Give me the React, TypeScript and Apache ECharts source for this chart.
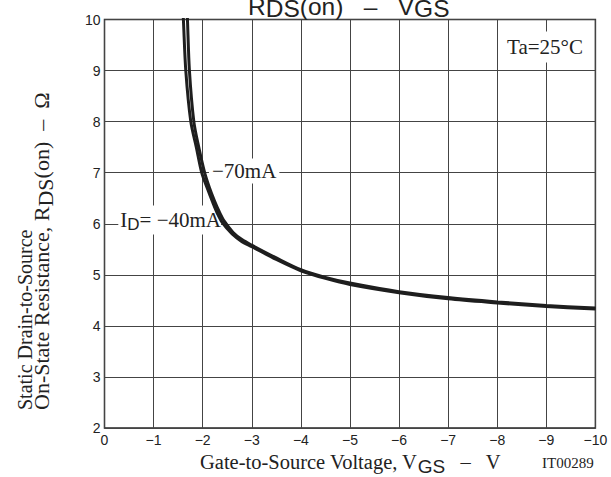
import React, { useEffect, useRef } from 'react';
import * as echarts from 'echarts';

// ID = -40mA curve
const vgs40 = [-1.58, -1.607, -1.656, -1.758, -1.87, -1.98, -2.1, -2.2, -2.3, -2.4, -2.6, -2.8, -3.0, -3.5, -4.0, -4.5, -5.0, -6.0, -7.0, -8.0, -9.0, -10.0];
const r40 = [10.5, 10.0, 9.0, 8.0, 7.5, 7.0, 6.68, 6.43, 6.2, 6.02, 5.8, 5.65, 5.55, 5.3, 5.08, 4.93, 4.81, 4.65, 4.53, 4.45, 4.38, 4.33];
// ID = -70mA curve
const vgs70 = [-1.67, -1.69, -1.73, -1.82, -1.92, -2.04, -2.14, -2.24, -2.34, -2.44, -2.62, -2.8, -3.0, -3.5, -4.0, -4.5, -5.0, -6.0, -7.0, -8.0, -9.0, -10.0];
const r70 = [10.5, 10.0, 9.0, 8.0, 7.5, 7.0, 6.7, 6.45, 6.23, 6.05, 5.83, 5.69, 5.58, 5.33, 5.1, 4.95, 4.84, 4.67, 4.555, 4.47, 4.4, 4.35];

const xMin = -10;
const xMax = 0;
const yMin = 2;
const yMax = 10;

const SERIF = "'Liberation Serif', 'Times New Roman', serif";
const SANS = "'Liberation Sans', Arial, sans-serif";
const INK = '#1e1e1e';

export default function App() {
  const ref = useRef<HTMLDivElement>(null);
  useEffect(() => {
    document.body.style.margin = '0';
    const chart = echarts.init(ref.current!, null, { renderer: 'svg' });
    const fmt = (v: number) => (v === 0 ? '0' : '\u2212' + Math.abs(v));
    chart.setOption({
      animation: false,
      backgroundColor: '#fff',
      grid: {
        left: 104.5, right: 15.6, top: 19.5, bottom: 49,
        show: true, borderColor: '#262626', borderWidth: 1.5, backgroundColor: 'transparent',
      },
      xAxis: {
        type: 'value', min: xMin, max: xMax, interval: 1, inverse: true,
        axisLine: { show: false }, axisTick: { show: false },
        splitLine: { show: true, lineStyle: { color: '#444', width: 1 } },
        axisLabel: { formatter: fmt, color: '#222', fontFamily: SANS, fontSize: 14, margin: 5 },
      },
      yAxis: {
        type: 'value', min: yMin, max: yMax, interval: 1,
        axisLine: { show: false }, axisTick: { show: false },
        splitLine: { show: true, lineStyle: { color: '#444', width: 1 } },
        axisLabel: { color: '#222', fontFamily: SANS, fontSize: 14, margin: 4 },
      },
      series: [
        {
          type: 'line', name: '-40mA', data: vgs40.map((v, i) => [v, r40[i]]),
          showSymbol: false, symbol: 'none', smooth: 0.3, clip: true, z: 5,
          lineStyle: { color: INK, width: 3 },
        },
        {
          type: 'line', name: '-70mA', data: vgs70.map((v, i) => [v, r70[i]]),
          showSymbol: false, symbol: 'none', smooth: 0.3, clip: true, z: 5,
          lineStyle: { color: INK, width: 3 },
        },
      ],
      graphic: [
        {
          type: 'text', x: 248, y: 6, z: 10,
          style: {
            text: '{n|R}{s|DS}{n|(on)   \u2013   V}{s|GS}',
            fill: '#222', verticalAlign: 'middle', align: 'left',
            rich: {
              n: { fontFamily: SANS, fontSize: 24.5, fill: '#222' },
              s: { fontFamily: SANS, fontSize: 24.5, fill: '#222', padding: [4, 0, 0, 0] },
            },
          },
        },
        {
          type: 'text', x: 585, y: 47, z: 1,
          style: {
            text: 'Ta=25\u00B0C', fontFamily: SERIF, fontSize: 21, fill: '#222',
            align: 'right', verticalAlign: 'middle', backgroundColor: '#fff', padding: [5, 2, 5, 2],
          },
        },
        {
          type: 'text', x: 209, y: 171, z: 1,
          style: {
            text: '\u221270mA', fontFamily: SERIF, fontSize: 21, fill: '#222',
            align: 'left', verticalAlign: 'middle', backgroundColor: '#fff', padding: [2, 3, 2, 3],
          },
        },
        {
          type: 'text', x: 221, y: 220, z: 1,
          style: {
            text: '{n|I}{s|D}{n|= \u221240mA}', align: 'right', verticalAlign: 'middle',
            backgroundColor: '#fff', padding: [2, 0, 2, 2],
            rich: {
              n: { fontFamily: SERIF, fontSize: 21, fill: '#222' },
              s: { fontFamily: SANS, fontSize: 17, fill: '#222', padding: [8, 0, 0, 0] },
            },
          },
        },
        {
          type: 'text', x: 25, y: 410, rotation: Math.PI / 2,
          style: {
            text: 'Static Drain-to-Source', fontFamily: SERIF, fontSize: 20, fill: '#222',
            align: 'left', verticalAlign: 'middle',
          },
        },
        {
          type: 'text', x: 41, y: 410, rotation: Math.PI / 2,
          style: {
            text: '{n|On-State Resistance, R}{s|DS}{n|(on)  \u2013  \u03A9}',
            align: 'left', verticalAlign: 'middle',
            rich: {
              n: { fontFamily: SERIF, fontSize: 22, fill: '#222' },
              s: { fontFamily: SERIF, fontSize: 22, fill: '#222', padding: [8, 0, 0, 0] },
            },
          },
        },
        {
          type: 'text', x: 200, y: 462,
          style: {
            text: '{n|Gate-to-Source Voltage, V}{s|GS}{n|   \u2013   V}',
            align: 'left', verticalAlign: 'middle',
            rich: {
              n: { fontFamily: SERIF, fontSize: 20.5, fill: '#222' },
              s: { fontFamily: SANS, fontSize: 19, fill: '#222', padding: [8, 0, 0, 0] },
            },
          },
        },
        {
          type: 'text', x: 542, y: 463,
          style: {
            text: 'IT00289', fontFamily: SERIF, fontSize: 15, fill: '#222',
            align: 'left', verticalAlign: 'middle',
          },
        },
      ],
    });
    return () => chart.dispose();
  }, []);
  return <div ref={ref} style={{ width: 611, height: 477 }} />;
}
